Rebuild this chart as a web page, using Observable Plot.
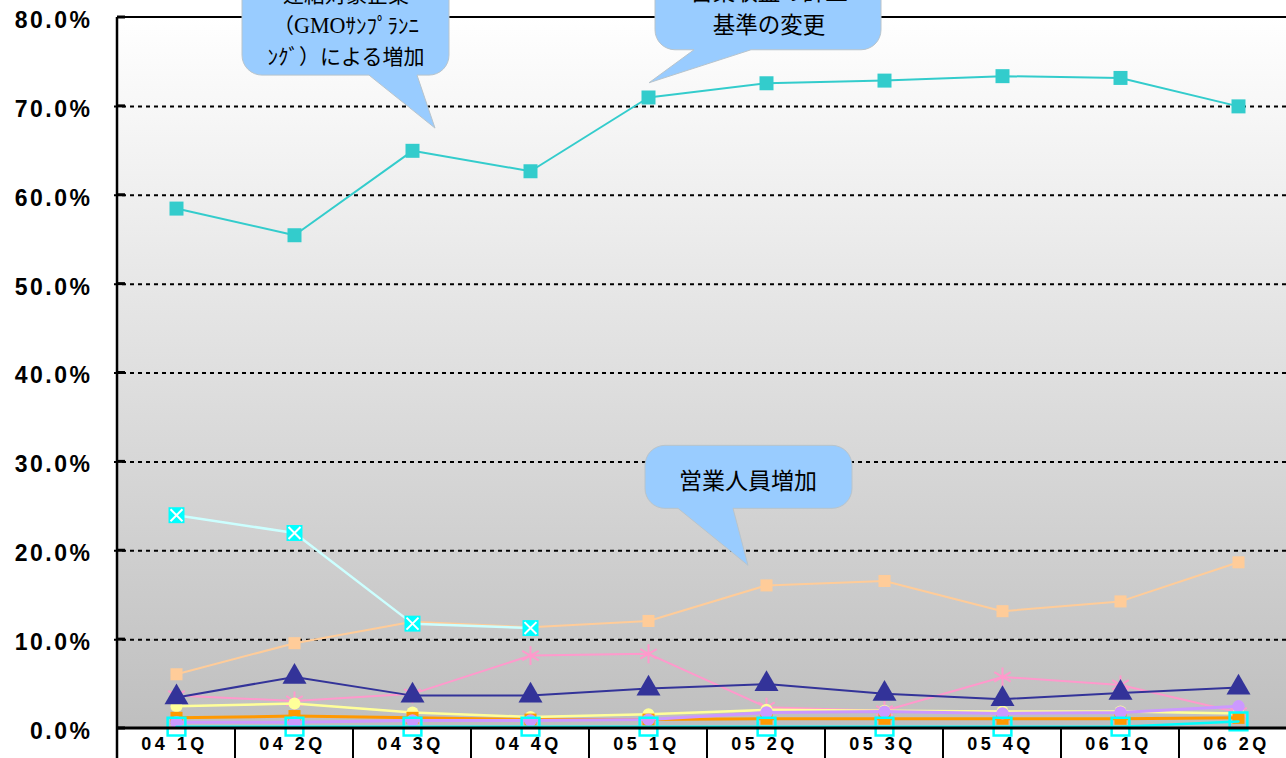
<!DOCTYPE html>
<html><head><meta charset="utf-8">
<script src="https://cdn.jsdelivr.net/npm/d3@7"></script>
<script src="https://cdn.jsdelivr.net/npm/@observablehq/plot@0.6"></script>
<style>
html,body{margin:0;padding:0;background:#fff;overflow:hidden;width:1286px;height:758px}
#chart{position:absolute;left:0;top:0;width:1300px}
#chart svg{max-width:none !important}
</style></head><body><div id="chart"></div>
<script>
// ---- data ----
const categories = ["04 1Q","04 2Q","04 3Q","04 4Q","05 1Q","05 2Q","05 3Q","05 4Q","06 1Q","06 2Q"];
const yTicks = [0,10,20,30,40,50,60,70,80];
const seriesTeal     = [58.5,55.5,65.0,62.7,71.0,72.6,72.9,73.4,73.2,70.0];
const seriesCyanX    = [24.0,22.0,11.8,11.3,null,null,null,null,null,null];
const seriesPeach    = [6.1,9.6,12.0,11.4,12.1,16.1,16.6,13.2,14.3,18.7];
const seriesPink     = [3.7,3.1,3.9,8.2,8.4,2.4,2.0,5.8,4.9,1.8];
const seriesNavy     = [3.5,5.8,3.7,3.7,4.5,5.0,3.9,3.3,4.0,4.6];
const seriesYellow   = [2.5,2.8,1.8,1.3,1.6,2.1,2.0,1.9,1.9,1.7];
const seriesOrange   = [1.2,1.4,1.2,1.0,1.0,1.1,1.1,1.1,1.1,1.2];
const seriesLavender = [0.7,0.7,0.9,0.9,1.0,1.8,1.9,1.7,1.8,2.5];
const seriesCyanOpen = [0.2,0.2,0.2,0.2,0.2,0.2,0.2,0.2,0.2,0.8];
const calloutTexts = [
  ["連結対象企業","（GMOｻﾝﾌﾟﾗﾝﾆ","ﾝｸﾞ）による増加"],
  ["営業収益の計上","基準の変更"],
  ["営業人員増加"]
];
// callout anchors (tip of pointer) in data space
const calloutCats = ["04 3Q","05 1Q","05 2Q"];
const calloutVals = [67.5,72.6,18.3];

// ---- layout ----
const W = 1300, H = 790, mL = 114, mR = 1, mT = 17, mB = 62;
const calloutGeom = [
  {dx:23, box:[-193,14,-200,-53], base:[-66,-18], tdx:-89, lines:[-134,-103,-72], fs:21},
  {dx:1,  box:[6,232,-200,-33],  base:[45,102],  tdx:120, lines:[-91,-58], fs:22.5},
  {dx:-18,box:[-103,104,-120,-57], base:[-70,-15], tdx:0, lines:[-85], fs:23}
];

function ser(vals){ return categories.map((c,i)=>({cat:c, v:vals[i]})).filter(d=>d.v!=null); }
function step(x){ return x(categories[1]) - x(categories[0]); }

function backMark(index, scales, values, dims){
  const {x, y} = scales;
  const g = d3.create("svg:g");
  const defs = g.append("defs");
  const lg = defs.append("linearGradient").attr("id","bgGrad").attr("x1",0).attr("y1",0).attr("x2",0).attr("y2",1);
  lg.append("stop").attr("offset","0%").attr("stop-color","#ffffff");
  lg.append("stop").attr("offset","100%").attr("stop-color","#bfbfbf");
  const top = y(80), bot = y(0), s = step(x), left = x(categories[0]) - s/2, right = x(categories[categories.length-1]) + s/2;
  g.append("rect").attr("x",left).attr("y",top).attr("width",right-left).attr("height",bot-top).attr("fill","url(#bgGrad)");
  g.append("rect").attr("x",left).attr("y",bot).attr("width",right-left).attr("height",H-bot).attr("fill","#fff");
  for (let i=1;i<=categories.length;i++){
    const xx = left + i*s;
    g.append("line").attr("x1",xx).attr("x2",xx).attr("y1",bot).attr("y2",H).attr("stroke","#000").attr("stroke-width",2);
  }
  return g.node();
}
function frontMark(index, scales, values, dims){
  const {x, y} = scales;
  const g = d3.create("svg:g");
  const top = y(80), bot = y(0), s = step(x), left = x(categories[0]) - s/2, right = x(categories[categories.length-1]) + s/2;
  g.append("line").attr("x1",left).attr("x2",left).attr("y1",top).attr("y2",H).attr("stroke","#000").attr("stroke-width",2.5);
  g.append("line").attr("x1",left).attr("x2",right).attr("y1",top).attr("y2",top).attr("stroke","#000").attr("stroke-width",2);
  g.append("line").attr("x1",left).attr("x2",right).attr("y1",bot).attr("y2",bot).attr("stroke","#000").attr("stroke-width",3);
  for (const t of yTicks){
    g.append("line").attr("x1",left).attr("x2",left+8).attr("y1",y(t)).attr("y2",y(t)).attr("stroke","#000").attr("stroke-width",3);
  }
  return g.node();
}
function calloutMark(index, scales, values, dims){
  const {x, y} = scales;
  const g = d3.create("svg:g");
  calloutTexts.forEach((lines, k) => {
    const c = calloutGeom[k];
    const tx = x(calloutCats[k]) + c.dx, ty = y(calloutVals[k]);
    const L = tx + c.box[0], R = tx + c.box[1], T = ty + c.box[2], B = ty + c.box[3], r = 20;
    const b0 = tx + c.base[0], b1 = tx + c.base[1];
    const p = `M${L+r},${T} H${R-r} A${r},${r} 0 0 1 ${R},${T+r} V${B-r} A${r},${r} 0 0 1 ${R-r},${B} H${b1} L${tx},${ty} L${b0},${B} H${L+r} A${r},${r} 0 0 1 ${L},${B-r} V${T+r} A${r},${r} 0 0 1 ${L+r},${T} Z`;
    g.append("path").attr("d",p).attr("fill","#99CCFF").attr("stroke","#b8c4cc").attr("stroke-width",1);
    lines.forEach((ln, j) => {
      const t = g.append("text").attr("x", tx + c.tdx).attr("y", ty + c.lines[j] + c.fs*0.36)
        .attr("text-anchor","middle")
        .attr("font-family","'Noto Sans CJK JP', sans-serif").attr("font-size", c.fs).attr("fill","#000");
      const parts = ln.split("GMO");
      parts.forEach((pt, q) => {
        if (q > 0) t.append("tspan").attr("font-family","'Liberation Serif', serif").attr("font-size", c.fs*1.05).text("GMO");
        if (pt) t.append("tspan").text(pt);
      });
    });
  });
  return g.node();
}

const marks = [
  backMark,
  Plot.ruleY(yTicks.filter(t => t > 0 && t < 80), {y: d => d, stroke: "#000", strokeWidth: 2, strokeDasharray: "4,4"}),
  // pink asterisks
  Plot.line(ser(seriesPink), {x:"cat", y:"v", stroke:"#FF99CC", strokeWidth:2}),
  Plot.dot(ser(seriesPink), {x:"cat", y:"v", symbol:"asterisk", r:9, stroke:"#FF99CC", strokeWidth:2}),
  // yellow circles
  Plot.line(ser(seriesYellow), {x:"cat", y:"v", stroke:"#FFFF99", strokeWidth:2.5}),
  Plot.dot(ser(seriesYellow), {x:"cat", y:"v", symbol:"circle", r:6, fill:"#FFFF99", stroke:"none"}),
  // orange squares
  Plot.line(ser(seriesOrange), {x:"cat", y:"v", stroke:"#FF9900", strokeWidth:3}),
  Plot.dot(ser(seriesOrange), {x:"cat", y:"v", symbol:"square", r:6.8, fill:"#FF9900", stroke:"none"}),
  // lavender circles
  Plot.line(ser(seriesLavender), {x:"cat", y:"v", stroke:"#CC99FF", strokeWidth:3}),
  Plot.dot(ser(seriesLavender), {x:"cat", y:"v", symbol:"circle", r:6.2, fill:"#CC99FF", stroke:"none"}),
  // cyan open squares
  Plot.line(ser(seriesCyanOpen), {x:"cat", y:"v", stroke:"#00FFFF", strokeWidth:2.5}),
  Plot.dot(ser(seriesCyanOpen), {x:"cat", y:"v", symbol:"square", r:10, fill:"none", stroke:"#00FFFF", strokeWidth:2.5}),
  // navy triangles
  Plot.line(ser(seriesNavy), {x:"cat", y:"v", stroke:"#333399", strokeWidth:2}),
  Plot.dot(ser(seriesNavy), {x:"cat", y:"v", symbol:"triangle", r:8.9, fill:"#333399", stroke:"none"}),
  // peach squares
  Plot.line(ser(seriesPeach), {x:"cat", y:"v", stroke:"#FFCC99", strokeWidth:2}),
  Plot.dot(ser(seriesPeach), {x:"cat", y:"v", symbol:"square", r:6.8, fill:"#FFCC99", stroke:"none"}),
  // cyan X squares
  Plot.line(ser(seriesCyanX), {x:"cat", y:"v", stroke:"#CCFFFF", strokeWidth:2.5}),
  Plot.dot(ser(seriesCyanX), {x:"cat", y:"v", symbol:"square", r:9, fill:"#00FFFF", stroke:"none"}),
  Plot.dot(ser(seriesCyanX), {x:"cat", y:"v", symbol:"times", r:5.5, stroke:"#FFFFFF", strokeWidth:2}),
  // teal squares
  Plot.line(ser(seriesTeal), {x:"cat", y:"v", stroke:"#33CCCC", strokeWidth:2}),
  Plot.dot(ser(seriesTeal), {x:"cat", y:"v", symbol:"square", r:7.9, fill:"#33CCCC", stroke:"none"}),
  frontMark,
  calloutMark,
  Plot.text(yTicks, {y: d => d, text: d => d.toFixed(1) + "%", frameAnchor: "left", textAnchor: "end", dx: -22, dy: 3,
    fontSize: 23, fontWeight: "bold", fontFamily: "'Liberation Sans', Arial, sans-serif", fill: "#000"}),
  Plot.text(categories, {x: d => d, text: d => d, frameAnchor: "bottom", dy: 21, dx: -2,
    fontSize: 18, fontWeight: "bold", fontFamily: "'Liberation Sans', Arial, sans-serif", fill: "#000"})
];

const chart = Plot.plot({
  width: W, height: H,
  marginLeft: mL, marginRight: mR, marginTop: mT, marginBottom: mB,
  style: {background: "white", overflow: "visible", maxWidth: "none"},
  x: {type: "point", domain: categories, padding: 0.5, axis: null},
  y: {domain: [0, 80], axis: null},
  marks
});
document.getElementById("chart").appendChild(chart);
// apply letter spacing to label texts
d3.select(chart).selectAll('text').each(function(){
  const t = this.textContent;
  if (/^\d+\.0%$/.test(t)) this.style.letterSpacing = "2.5px";
  else if (categories.includes(t)) this.style.letterSpacing = "3.5px";
});
</script>
</body></html>
